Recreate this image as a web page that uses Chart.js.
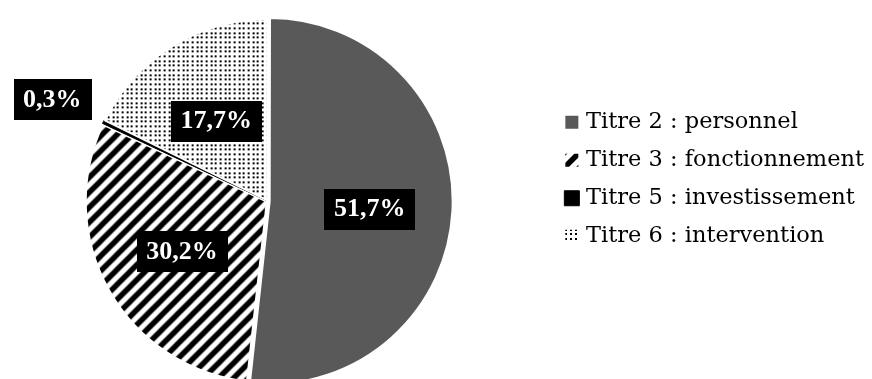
<!DOCTYPE html>
<html>
<head>
<meta charset="utf-8">
<script src="https://cdn.jsdelivr.net/npm/chart.js@4"></script>
<style>
  html, body { margin: 0; padding: 0; background: #fff; overflow: hidden; }
  #zone { width: 872px; height: 379px; overflow: hidden; }
  #graphique { display: block; margin-left: -18px; }
</style>
</head>
<body>
<div id="zone"><canvas id="graphique" width="892" height="379"></canvas></div>
<script>
// Données du graphique
const titres = ['Titre 2 : personnel', 'Titre 3 : fonctionnement', 'Titre 5 : investissement', 'Titre 6 : intervention'];
const parts = [51.7, 30.2, 0.3, 17.7];

// Motif hachuré (diagonales montantes)
function motifHachures() {
  const t = 15;
  const c = document.createElement('canvas');
  c.width = t; c.height = t;
  const g = c.getContext('2d');
  g.fillStyle = '#fff';
  g.fillRect(0, 0, t, t);
  g.strokeStyle = '#000';
  g.lineWidth = 5.5;
  g.beginPath();
  g.moveTo(-t / 2, t / 2); g.lineTo(t / 2, -t / 2);
  g.moveTo(0, t); g.lineTo(t, 0);
  g.moveTo(t / 2, t * 1.5); g.lineTo(t * 1.5, t / 2);
  g.stroke();
  return g.createPattern(c, 'repeat');
}

// Motif pointillé
function motifPoints() {
  const c = document.createElement('canvas');
  c.width = 14; c.height = 14;
  const g = c.getContext('2d');
  g.fillStyle = '#fff';
  g.fillRect(0, 0, 14, 14);
  g.fillStyle = '#000';
  [0, 5, 9].forEach(x => {
    [0, 5, 9].forEach(y => g.fillRect(x, y, 2, 2));
  });
  return g.createPattern(c, 'repeat');
}

// Étiquettes noires avec le pourcentage
const etiquettes = {
  id: 'etiquettes',
  afterDatasetsDraw(chart) {
    const ctx = chart.ctx;
    const meta = chart.getDatasetMeta(0);
    const offsets = chart.data.datasets[0].offset;
    ctx.save();
    ctx.font = 'bold 26px "Liberation Serif"';
    ctx.textAlign = 'center';
    ctx.textBaseline = 'middle';
    meta.data.forEach((arc, i) => {
      const p = arc.getProps(['x', 'y', 'startAngle', 'endAngle', 'outerRadius'], true);
      const milieu = (p.startAngle + p.endAngle) / 2;
      const dist = parts[i] < 2 ? p.outerRadius * 1.32 : p.outerRadius * 0.52 + offsets[i];
      const x = p.x + Math.cos(milieu) * dist;
      const y = p.y + Math.sin(milieu) * dist + 2;
      const texte = parts[i].toFixed(1).replace('.', ',') + '%';
      const l = ctx.measureText(texte).width + 19;
      ctx.fillStyle = '#000';
      ctx.fillRect(Math.round(x - l / 2), Math.round(y - 20), Math.round(l), 41);
      ctx.fillStyle = '#fff';
      ctx.fillText(texte, x, y + 1);
    });
    ctx.restore();
  }
};

const ctx = document.getElementById('graphique').getContext('2d');
new Chart(ctx, {
  type: 'pie',
  data: {
    labels: titres,
    datasets: [{
      data: parts,
      backgroundColor: ['#595959', motifHachures(), '#000', motifPoints()],
      borderColor: ['#fff', '#fff', '#000', '#fff'],
      borderWidth: [2, 2, 1, 2],
      offset: [8, 4, 3, 3],
      radius: 181
    }]
  },
  options: {
    responsive: false,
    animation: false,
    events: [],
    layout: {
      padding: { left: 0, right: 0, top: 95.5, bottom: 72.5 }
    },
    plugins: {
      tooltip: { enabled: false },
      legend: {
        position: 'right',
        align: 'start',
        labels: {
          usePointStyle: true,
          pointStyle: 'rect',
          boxWidth: 6,
          boxHeight: 15,
          padding: 15.5,
          color: '#000',
          font: { family: '"DejaVu Serif"', size: 22.5 }
        }
      }
    }
  },
  plugins: [etiquettes]
});
</script>
</body>
</html>
